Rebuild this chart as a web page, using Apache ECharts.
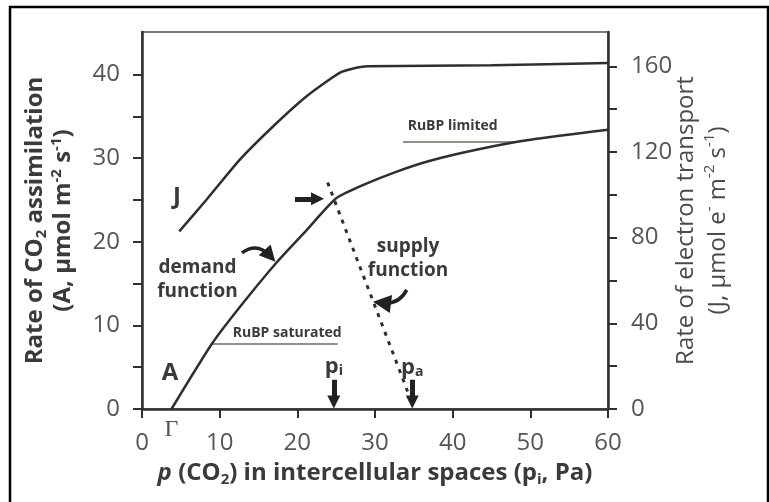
<!DOCTYPE html>
<html><head><meta charset="utf-8">
<script src="https://cdn.jsdelivr.net/npm/echarts@6/dist/echarts.min.js"></script>
<style>html,body{margin:0;padding:0;background:#fff}#c{width:769px;height:502px}</style>
</head><body><div id="c"></div>
<script>
// ---- data ----
const xTicks = [0, 10, 20, 30, 40, 50, 60];
const aTicks = [0, 5, 10, 15, 20, 25, 30, 35, 40];
const aLabels = [0, 10, 20, 30, 40];
const jTicks = [0, 20, 40, 60, 80, 100, 120, 140, 160];
const jLabels = [0, 40, 80, 120, 160];
const gammaPoint = [3.8];           // CO2 compensation point Γ
const piValue = 24.7;               // intercellular p(CO2)
const paValue = 34.8;               // ambient p(CO2)
// demand function A (left axis)
const demandX = [3.8, 9, 12.6, 17.3, 21.2, 25, 28.5, 32.8, 37.1, 43.5, 50, 60];
const demandA = [0, 7.8, 12.2, 17.5, 21.4, 25.2, 26.8, 28.4, 29.7, 31.1, 32.2, 33.4];
// electron transport J (right axis)
const jX = [4.8, 8.3, 12.6, 16.9, 21.2, 25.5, 27.6, 29, 45, 60];
const jValues = [82.9, 97.7, 116.4, 132, 146, 157, 159.3, 160, 160.5, 161.5];
// supply function (left axis)
const supplyX = [23.9, 34.2];
const supplyA = [27.1, 2.1];

const zip = (xs, ys) => xs.map((x, i) => [x, ys[i]]);
const ink = '#2f2f2f', gray = '#555555', txt = '#3a3a3a';
const F = '"Open Sans", "Noto Sans", sans-serif';

const chart = echarts.init(document.getElementById('c'), null, {renderer: 'canvas'});

const boldLabel = {show: true, position: 'inside', color: txt, fontFamily: F, fontWeight: 'bold'};

const option = {
  animation: false,
  backgroundColor: '#fff',
  graphic: [{type: 'rect', shape: {x: 10, y: 7, width: 758, height: 510}, style: {fill: 'none', stroke: '#000', lineWidth: 2.5}, silent: true}],
  grid: {left: 142, right: 161, top: 32, bottom: 93, show: true, borderColor: '#7a7a7a', borderWidth: 2, backgroundColor: 'transparent'},
  xAxis: [{
    type: 'value', min: 0, max: 60, interval: 10, position: 'bottom',
    axisLine: {show: true, onZero: false, lineStyle: {color: ink, width: 2.5}},
    axisTick: {show: true, customValues: xTicks, length: 9, lineStyle: {color: ink, width: 2}},
    axisLabel: {customValues: xTicks, margin: 22, fontSize: 24, color: gray, fontFamily: F},
    splitLine: {show: false},
    name: '{i|p} (CO{sub|2}) in intercellular spaces (p{sub|i}, Pa)',
    nameLocation: 'middle', nameGap: 50, nameMoveOverlap: false,
    nameTextStyle: {fontSize: 24, fontWeight: 'bold', color: txt, fontFamily: F, lineHeight: 28,
      rich: {
        i: {fontSize: 24, fontWeight: 'bold', fontStyle: 'italic', color: txt, fontFamily: F},
        sub: {fontSize: 15, fontWeight: 'bold', color: txt, fontFamily: F, verticalAlign: 'bottom'}
      }}
  }, {
    type: 'value', min: 0, max: 60, position: 'bottom',
    axisLine: {show: false}, axisTick: {show: false}, splitLine: {show: false},
    axisLabel: {customValues: gammaPoint, formatter: () => 'Γ', margin: 9, fontSize: 24, color: gray, fontFamily: '"Liberation Serif", "DejaVu Serif", serif'}
  }],
  yAxis: [{
    type: 'value', min: 0, max: 45.1, position: 'left',
    axisLine: {show: true, onZero: false, lineStyle: {color: ink, width: 2.5}},
    axisTick: {show: true, customValues: aTicks, length: 9, lineStyle: {color: ink, width: 2}},
    axisLabel: {customValues: aLabels, margin: 22, fontSize: 24, color: gray, fontFamily: F},
    splitLine: {show: false},
    name: 'Rate of CO{sub|2} assimilation\n(A, μmol m{sup|-2} s{sup|-1})',
    nameLocation: 'middle', nameRotate: 90, nameGap: 65, nameMoveOverlap: false,
    nameTextStyle: {fontSize: 24, fontWeight: 'bold', color: txt, fontFamily: F, lineHeight: 28, align: 'center',
      rich: {
        sub: {fontSize: 15, fontWeight: 'bold', color: txt, fontFamily: F, verticalAlign: 'bottom'},
        sup: {fontSize: 15, fontWeight: 'bold', color: txt, fontFamily: F, verticalAlign: 'top'}
      }}
  }, {
    type: 'value', min: 0, max: 176, position: 'right',
    axisLine: {show: true, onZero: false, lineStyle: {color: ink, width: 2.5}},
    axisTick: {show: true, customValues: jTicks, length: 9, lineStyle: {color: ink, width: 2}},
    axisLabel: {customValues: jLabels, margin: 23, fontSize: 24, color: gray, fontFamily: F},
    splitLine: {show: false},
    name: 'Rate of electron transport\n(J, μmol e{sup|-} m{sup|-2} s{sup|-1})',
    nameLocation: 'middle', nameRotate: 90, nameGap: 62, nameMoveOverlap: false,
    nameTextStyle: {fontSize: 24, color: '#4a4a4a', fontFamily: F, lineHeight: 32, align: 'center',
      rich: {
        sup: {fontSize: 15, color: '#4a4a4a', fontFamily: F, verticalAlign: 'top'}
      }}
  }],
  series: [
    {
      name: 'A', type: 'line', xAxisIndex: 0, yAxisIndex: 0, data: zip(demandX, demandA),
      showSymbol: false, symbol: 'none', smooth: 0.2, silent: true,
      lineStyle: {color: ink, width: 2.5},
      markPoint: {
        silent: true, symbol: 'circle', symbolSize: 1, itemStyle: {color: 'transparent'},
        label: boldLabel,
        data: [
          {coord: [7.14, 15.45], label: {formatter: 'demand\nfunction', fontSize: 19, lineHeight: 24}},
          {coord: [34.25, 17.96], label: {formatter: 'supply\nfunction', fontSize: 19, lineHeight: 24}},
          {coord: [18.7, 9.1], label: {formatter: 'RuBP saturated', fontSize: 14}},
          {coord: [40.0, 33.8], label: {formatter: 'RuBP limited', fontSize: 14}},
          {coord: [4.5, 25.4], label: {formatter: 'J', fontSize: 24}},
          {coord: [3.6, 4.3], label: {formatter: 'A', fontSize: 24}},
          {coord: [piValue, 5.0], label: {formatter: '{p|p}{s|i}', rich: {p: {fontSize: 22, fontWeight: 'bold', color: txt, fontFamily: F}, s: {fontSize: 14, fontWeight: 'bold', color: txt, fontFamily: F, verticalAlign: 'bottom'}}}},
          {coord: [paValue, 4.9], label: {formatter: '{p|p}{s|a}', rich: {p: {fontSize: 22, fontWeight: 'bold', color: txt, fontFamily: F}, s: {fontSize: 14, fontWeight: 'bold', color: txt, fontFamily: F, verticalAlign: 'bottom'}}}}
        ]
      }
    },
    {
      name: 'J', type: 'line', xAxisIndex: 0, yAxisIndex: 1, data: zip(jX, jValues),
      showSymbol: false, symbol: 'none', smooth: 0.2, silent: true,
      lineStyle: {color: ink, width: 2.5}
    },
    {
      name: 'supply', type: 'line', xAxisIndex: 0, yAxisIndex: 0, data: zip(supplyX, supplyA),
      showSymbol: false, symbol: 'none', silent: true,
      lineStyle: {color: ink, width: 3, type: [4, 6]}
    },
    { // RuBP underlines
      type: 'lines', coordinateSystem: 'cartesian2d', xAxisIndex: 0, yAxisIndex: 0, silent: true,
      symbol: 'none', lineStyle: {color: '#6a6e62', width: 1.6, opacity: 1},
      data: [{coords: [[9.0, 7.8], [25.2, 7.8]]}, {coords: [[33.6, 32.0], [48.3, 32.0]]}]
    },
    { // straight arrows
      type: 'lines', coordinateSystem: 'cartesian2d', xAxisIndex: 0, yAxisIndex: 0, silent: true, z: 5,
      symbol: ['none', 'triangle'], symbolSize: 13,
      lineStyle: {color: '#222', width: 5, opacity: 1},
      data: [
        {coords: [[piValue, 3.5], [piValue, 0.85]]},
        {coords: [[paValue, 3.5], [paValue, 0.85]]},
        {coords: [[19.7, 25.15], [22.6, 25.15]]}
      ]
    },
    { // demand curved arrow
      type: 'lines', coordinateSystem: 'cartesian2d', xAxisIndex: 0, yAxisIndex: 0, silent: true, z: 5,
      symbol: ['none', 'triangle'], symbolSize: 16,
      lineStyle: {color: '#222', width: 3.5, curveness: 0.45, opacity: 1},
      data: [{coords: [[12.87, 18.68], [16.48, 18.32]]}]
    },
    { // supply curved arrow
      type: 'lines', coordinateSystem: 'cartesian2d', xAxisIndex: 0, yAxisIndex: 0, silent: true, z: 5,
      symbol: ['none', 'triangle'], symbolSize: 18,
      lineStyle: {color: '#222', width: 3.5, curveness: 0.35, opacity: 1},
      data: [{coords: [[34.08, 14.25], [30.9, 12.7]]}]
    }
  ]
};
chart.setOption(option);
</script>
</body></html>
